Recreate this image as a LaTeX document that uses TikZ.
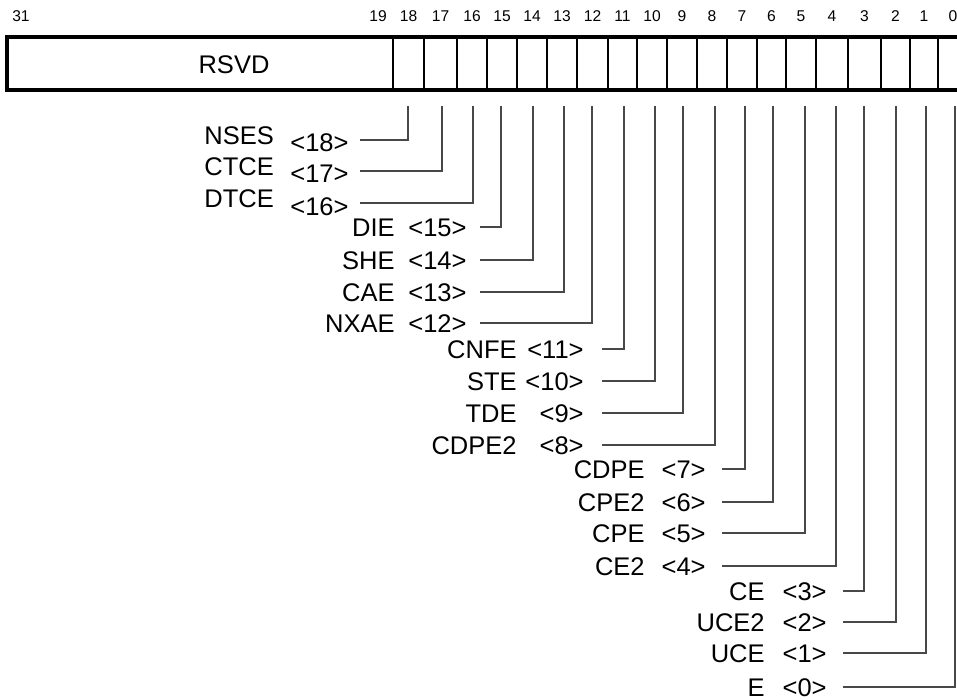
\documentclass[tikz,border=0pt]{standalone}
\usepackage{fontspec}
\setmainfont{Liberation Sans}
\definecolor{wiregray}{RGB}{72,72,72}

\begin{document}
\begin{tikzpicture}[
    x=0.5pt, y=-0.5pt,
    fieldtext/.style={font=\fontsize{12.75}{15}\selectfont, inner sep=0pt},
    bitno/.style={font=\fontsize{7.8}{9}\selectfont, inner sep=0pt, anchor=base},
    namelbl/.style={fieldtext, anchor=base east},
    numlbl/.style={fieldtext, anchor=base west},
    numlblr/.style={fieldtext, anchor=base east},
    wire/.style={draw=wiregray, line width=0.65pt},
    divider/.style={line width=0.6pt},
]
    \clip (0,0) rectangle (957,700);

    % Register outline, runs past the right edge
    \draw[line width=2pt] (7,37.5) rectangle (985,90.5);
    \foreach \bx in {393,424,457,487,517,547,577,608,637,667,697,727,757,786,816,848,881,910,938}
        \draw[divider] (\bx,39) -- (\bx,89);
    \node[fieldtext, anchor=base] (rsvd) at (234,74) {RSVD};

    % Bit numbers
    \node[bitno] (no31) at (21,21.5) {31};
    \foreach \b/\bx in {19/378,18/408.5,17/440.5,16/472,15/502,14/532,13/562,12/592.5,11/622.5,10/652,
                        9/682,8/712,7/742,6/771.5,5/801,4/832,3/864.5,2/895.5,1/924,0/953}
        \node[bitno] (no\b) at (\bx,21.5) {\b};

    % Bits 18-16
    \node[fieldtext, anchor=base west] (nses) at (204,144.5) {NSES};
    \node[numlbl] (n18) at (290,152) {<18>};
    \node[fieldtext, anchor=base west] (ctce) at (204,175.5) {CTCE};
    \node[numlbl] (n17) at (290,183) {<17>};
    \node[fieldtext, anchor=base west] (dtce) at (204,207.5) {DTCE};
    \node[numlbl] (n16) at (290,215) {<16>};

    % Bits 15-12
    \node[namelbl] (die) at (395,236.7) {DIE};
    \node[numlbl] (n15) at (408,236.7) {<15>};
    \node[namelbl] (she) at (395,269.7) {SHE};
    \node[numlbl] (n14) at (408,269.7) {<14>};
    \node[namelbl] (cae) at (395,301.7) {CAE};
    \node[numlbl] (n13) at (408,301.7) {<13>};
    \node[namelbl] (nxae) at (395,332.7) {NXAE};
    \node[numlbl] (n12) at (408,332.7) {<12>};

    % Bits 11-8
    \node[namelbl] (cnfe) at (517,358.7) {CNFE};
    \node[numlblr] (n11) at (584,358.7) {<11>};
    \node[namelbl] (ste) at (517,390.7) {STE};
    \node[numlblr] (n10) at (584,390.7) {<10>};
    \node[namelbl] (tde) at (517,422.7) {TDE};
    \node[numlblr] (n9) at (584,422.7) {<9>};
    \node[namelbl] (cdpeii) at (517,454.7) {CDPE2};
    \node[numlblr] (n8) at (584,454.7) {<8>};

    % Bits 7-4
    \node[namelbl] (cdpe) at (645,478.7) {CDPE};
    \node[numlblr] (n7) at (706,478.7) {<7>};
    \node[namelbl] (cpeii) at (645,511.7) {CPE2};
    \node[numlblr] (n6) at (706,511.7) {<6>};
    \node[namelbl] (cpe) at (645,542.7) {CPE};
    \node[numlblr] (n5) at (706,542.7) {<5>};
    \node[namelbl] (ceii) at (645,575.7) {CE2};
    \node[numlblr] (n4) at (706,575.7) {<4>};

    % Bits 3-0
    \node[namelbl] (ce) at (765,600.7) {CE};
    \node[numlblr] (n3) at (827,600.7) {<3>};
    \node[namelbl] (uceii) at (765,631.7) {UCE2};
    \node[numlblr] (n2) at (827,631.7) {<2>};
    \node[namelbl] (uce) at (765,662.7) {UCE};
    \node[numlblr] (n1) at (827,662.7) {<1>};
    \node[namelbl] (e) at (765,696.7) {E};
    \node[numlblr] (n0) at (827,696.7) {<0>};

    % Leader lines from each bit cell
    \foreach \b/\tx/\wx/\wy in {18/408/360/140,17/442/360/171,16/473/360/203,
                                15/501/480/227,14/533/480/260,13/564/480/292,12/592/480/323,
                                11/624/602/349,10/655/602/381,9/683/602/413,8/715/602/445,
                                7/745/722/469,6/773/722/502,5/805/722/533,4/836/722/566,
                                3/864/843/591,2/896/843/622,1/926/843/653,0/955/843/687} {
        \coordinate (t\b) at (\tx,106);
        \coordinate (w\b) at (\wx,\wy);
        \draw[wire] (w\b) -| (t\b);
    }
\end{tikzpicture}
\end{document}
